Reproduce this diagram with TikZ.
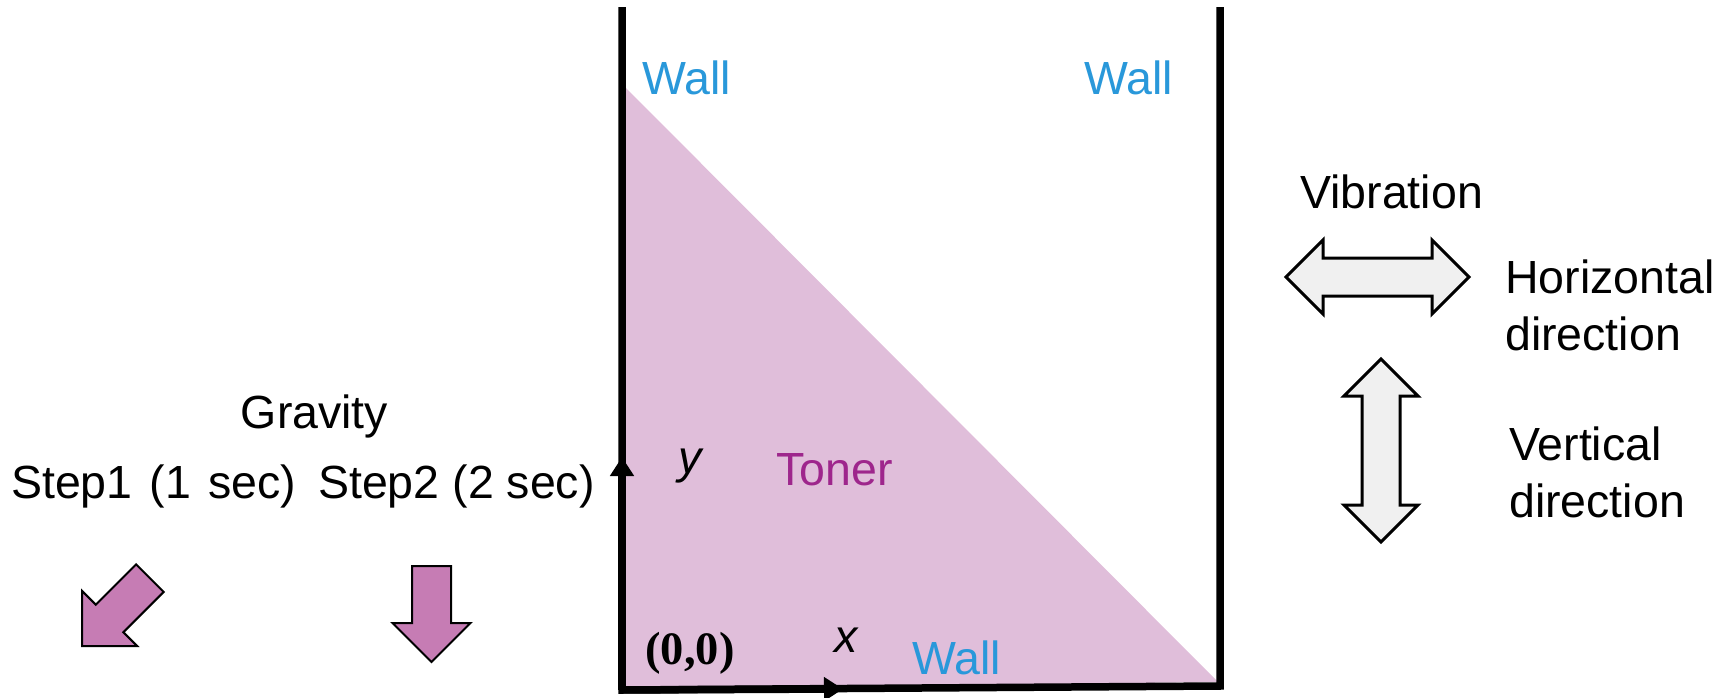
\documentclass[tikz,border=0pt]{standalone}
\usepackage{fontspec}
\setmainfont{Liberation Sans}
\newfontfamily\serifbold{Liberation Serif}
\usetikzlibrary{arrows.meta}
\definecolor{wallblue}{RGB}{41,152,218}
\definecolor{tonertext}{RGB}{158,38,140}
\definecolor{tonerfill}{RGB}{224,190,218}
\definecolor{gravfill}{RGB}{198,124,180}
\definecolor{vibfill}{RGB}{240,240,240}
\begin{document}
\begin{tikzpicture}[x=1pt,y=-1pt,
  txt/.style={inner sep=0pt, font=\fontsize{46.5}{57}\selectfont},
  walllabel/.style={txt, text=wallblue, anchor=base west},
  wallline/.style={line width=7.5pt, line join=miter, line cap=rect},
  axisarrow/.style={line width=7.5pt, -{Triangle[length=19pt 0 0,width=23pt 0 0]}},
  gravarrow/.style={draw=black, line width=2pt, fill=gravfill, line join=miter},
  vibarrow/.style={draw=black, line width=3pt, fill=vibfill, line join=miter}]
\useasboundingbox (0,0) rectangle (1727,698);
% toner
\fill[tonerfill] (624,86) -- (624,689) -- (1218,682) -- cycle;
% container
\coordinate (topL) at (622,11);
\coordinate (O) at (622,690);
\coordinate (botR) at (1220,686);
\coordinate (topR) at (1220,11);
\draw[wallline] (topL) -- (O) -- (botR) -- (topR);
\coordinate (ytip) at (622,457);
\coordinate (xtip) at (843,689);
\draw[axisarrow] (O) -- (ytip);
\draw[axisarrow] (O) -- (xtip);
% labels in container
\node[walllabel] (wallTL) at (642,95) {Wall};
\node[walllabel] (wallTR) at (1084,95) {Wall};
\node[walllabel] (wallB) at (912,674) {Wall};
\node[txt, text=tonertext, anchor=base west] (toner) at (776,485) {Toner};
\node[txt, anchor=base] (ylab) at (690,473) {\itshape y};
\node[txt, anchor=base] (xlab) at (846,652) {\itshape x};
\node[txt, anchor=base] (origin) at (690,664) {\serifbold\bfseries (0,0)};
% gravity
\node[txt, anchor=base] (gravity) at (314.5,428) {Gravity};
\node[txt, anchor=base west] (step1) at (11,498) {Step1\hspace{17pt}(1\hspace{17pt}sec)};
\node[txt, anchor=base west] (step2) at (318,498) {Step2 (2 sec)};
\draw[gravarrow] (82,646) -- (137.16,646) -- (123.37,632.21) -- (163.67,591.91)
  -- (136.09,564.33) -- (95.79,604.63) -- (82,590.84) -- cycle;
\draw[gravarrow] (431.5,662) -- (470.5,623) -- (451,623) -- (451,566)
  -- (412,566) -- (412,623) -- (392.5,623) -- cycle;
% vibration
\node[txt, anchor=base west] (vibration) at (1300,208) {Vibration};
\draw[vibarrow] (1286,277) -- (1323,240) -- (1323,258) -- (1432,258) -- (1432,240)
  -- (1469,277) -- (1432,314) -- (1432,296) -- (1323,296) -- (1323,314) -- cycle;
\draw[vibarrow] (1381,359) -- (1418,396) -- (1400,396) -- (1400,505) -- (1418,505)
  -- (1381,542) -- (1344,505) -- (1362,505) -- (1362,396) -- (1344,396) -- cycle;
\node[txt, anchor=base west] (horiz1) at (1505,293) {Horizontal};
\node[txt, anchor=base west] (horiz2) at (1505,350) {direction};
\node[txt, anchor=base west] (vert1) at (1509,460) {Vertical};
\node[txt, anchor=base west] (vert2) at (1509,517) {direction};
\end{tikzpicture}
\end{document}
